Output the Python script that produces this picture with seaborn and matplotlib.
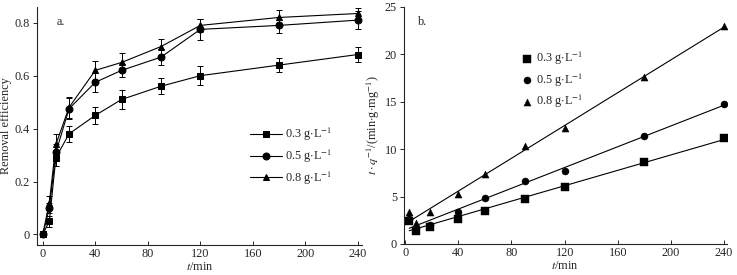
import numpy as np
import pandas as pd
import matplotlib
matplotlib.use("Agg")
from matplotlib import pyplot as plt
import seaborn as sns

sns.set_style("ticks")
plt.rcParams['font.family'] = ['Liberation Serif', 'DejaVu Serif']
plt.rcParams['mathtext.fontset'] = 'stix'
plt.rcParams['font.size'] = 8.8

# ---- panel a data: removal efficiency ----
t_a = [0, 5, 10, 20, 40, 60, 90, 120, 180, 240]
eff_03 = [0, 0.05, 0.29, 0.38, 0.45, 0.51, 0.56, 0.60, 0.64, 0.68]
eff_05 = [0, 0.10, 0.31, 0.475, 0.575, 0.62, 0.67, 0.775, 0.79, 0.81]
eff_08 = [0, 0.12, 0.34, 0.48, 0.62, 0.65, 0.71, 0.79, 0.82, 0.835]
err_03 = [0.01, 0.02, 0.03, 0.03, 0.033, 0.035, 0.03, 0.037, 0.025, 0.03]
err_05 = [0.01, 0.02, 0.03, 0.04, 0.035, 0.025, 0.03, 0.04, 0.03, 0.035]
err_08 = [0.01, 0.025, 0.04, 0.04, 0.035, 0.035, 0.03, 0.025, 0.03, 0.02]

# ---- panel b data: t/q vs t ----
t_b = [3, 8, 19, 40, 60, 90, 120, 180, 240]
tq_03 = [2.4, 1.4, 1.75, 2.6, 3.5, 4.75, 6.0, 8.65, 11.2]
tq_05 = [2.6, 1.7, 2.0, 3.4, 4.8, 6.65, 7.7, 11.35, 14.8]
tq_08 = [3.4, 2.25, 3.4, 5.25, 7.35, 10.3, 12.2, 17.6, 23.0]

labels = ['0.3 g$\\cdot$L$^{-1}$', '0.5 g$\\cdot$L$^{-1}$', '0.8 g$\\cdot$L$^{-1}$']
markers = ['s', 'o', '^']

fig = plt.figure(figsize=(7.37, 2.75), dpi=100)
ax1 = fig.add_axes([0.050, 0.109, 0.441, 0.866])
ax2 = fig.add_axes([0.548, 0.113, 0.438, 0.862])

# panel a
for y, e, lab, m in zip([eff_03, eff_05, eff_08], [err_03, err_05, err_08], labels, markers):
    df = pd.DataFrame({'t': t_a, 'eff': y})
    ax1.errorbar(t_a, y, yerr=e, fmt='none', ecolor='black', elinewidth=0.7, capsize=2.2, capthick=0.7)
    sns.lineplot(data=df, x='t', y='eff', ax=ax1, color='black', linewidth=0.8,
                 marker=m, markersize=5, markeredgecolor='black', label=lab)

ax1.set_xlim(-4.5, 243)
ax1.set_ylim(-0.04, 0.86)
ax1.set_xticks([0, 40, 80, 120, 160, 200, 240])
ax1.set_yticks([0, 0.2, 0.4, 0.6, 0.8])
ax1.set_yticklabels(['0', '0.2', '0.4', '0.6', '0.8'])
ax1.set_xlabel('$t$/min', labelpad=1)
ax1.set_ylabel('Removal efficiency', labelpad=2)
ax1.text(0.06, 0.96, 'a.', transform=ax1.transAxes, ha='left', va='top')
ax1.legend(loc='upper left', bbox_to_anchor=(0.64, 0.52), frameon=False,
           handlelength=2.6, handletextpad=0.3, labelspacing=0.35, borderaxespad=0)

# panel b
for y, lab, m in zip([tq_03, tq_05, tq_08], labels, markers):
    df = pd.DataFrame({'t': t_b, 'tq': y})
    sns.scatterplot(data=df, x='t', y='tq', ax=ax2, color='black', marker=m, s=26,
                    edgecolor='black', linewidth=0.3, label=lab)
    sns.regplot(data=df, x='t', y='tq', ax=ax2, scatter=False, ci=None,
                line_kws={'color': 'black', 'linewidth': 0.8})

ax2.set_xlim(-1, 242)
ax2.set_ylim(0, 25)
ax2.set_xticks([0, 40, 80, 120, 160, 200, 240])
ax2.set_yticks([0, 5, 10, 15, 20, 25])
ax2.set_xlabel('$t$/min', labelpad=1)
ax2.set_ylabel('$t\\cdot q^{-1}$/(min$\\cdot$g$\\cdot$mg$^{-1}$)', labelpad=2)
ax2.text(0.045, 0.96, 'b.', transform=ax2.transAxes, ha='left', va='top')
ax2.legend(loc='upper left', bbox_to_anchor=(0.35, 0.84), frameon=False,
           handlelength=0.8, handletextpad=0.4, labelspacing=0.35, borderaxespad=0)

for ax in (ax1, ax2):
    sns.despine(ax=ax)
    ax.tick_params(axis='x', direction='in', length=3, width=0.7, pad=2)
    ax.tick_params(axis='y', direction='out', length=3, width=0.7, pad=2)
    for s in ('left', 'bottom'):
        ax.spines[s].set_linewidth(0.8)

fig.savefig('out.png', dpi=100)
